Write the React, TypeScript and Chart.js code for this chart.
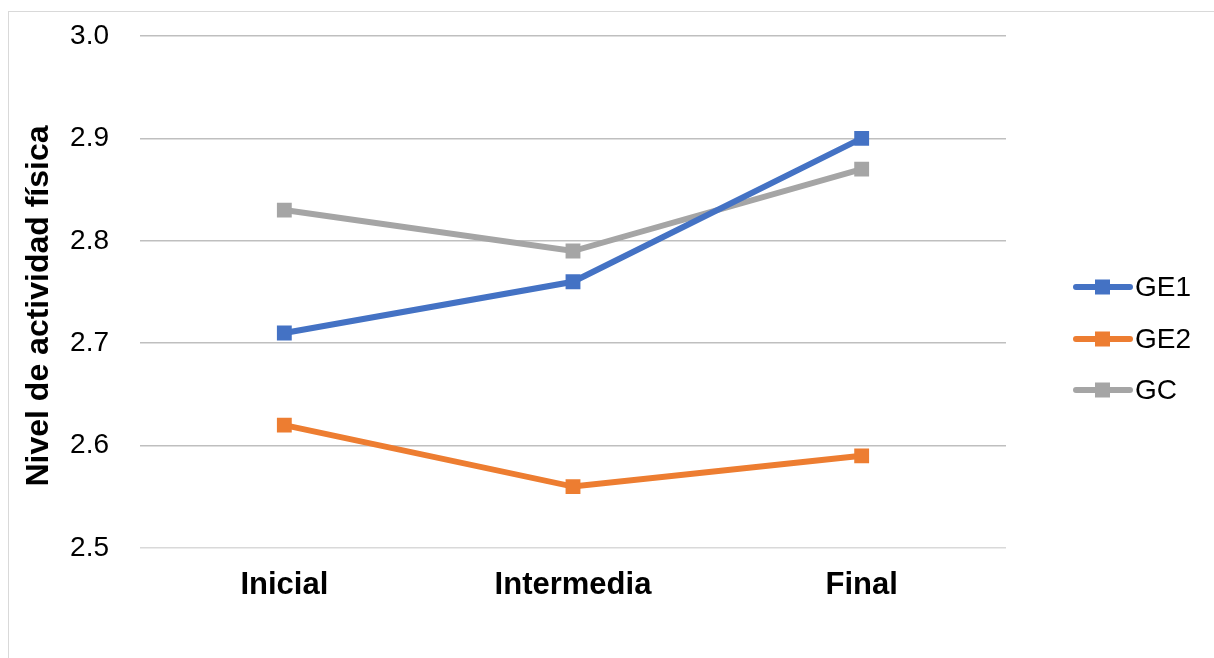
import React, { useEffect, useRef } from "react";
import { Chart, registerables } from "chart.js";

Chart.register(...registerables);

const categories = ["Inicial", "Intermedia", "Final"];
const seriesNames = ["GE1", "GE2", "GC"];
const ge1Values = [2.71, 2.76, 2.9];
const ge2Values = [2.62, 2.56, 2.59];
const gcValues = [2.83, 2.79, 2.87];
const seriesColors = ["#4472C4", "#ED7D31", "#A5A5A5"];
const yTitle = "Nivel de actividad física";

const FONT = "'Liberation Sans', Arial, sans-serif";

const borderPlugin = {
  id: "outerBorder",
  beforeDraw(chart: any) {
    const ctx = chart.ctx;
    ctx.save();
    ctx.fillStyle = "#ffffff";
    ctx.fillRect(0, 0, chart.width, chart.height);
    ctx.strokeStyle = "#D9D9D9";
    ctx.lineWidth = 1;
    ctx.strokeRect(8.5, 11.5, chart.width + 20, chart.height + 20);
    ctx.restore();
  },
};

const titlePlugin = {
  id: "yTitle",
  afterDraw(chart: any) {
    const ctx = chart.ctx;
    ctx.save();
    ctx.translate(39, 306);
    ctx.rotate(-Math.PI / 2);
    ctx.fillStyle = "#000000";
    ctx.font = `bold 32px ${FONT}`;
    ctx.textAlign = "center";
    ctx.textBaseline = "middle";
    ctx.fillText(yTitle, 0, 0);
    ctx.restore();
  },
};

const legendPlugin = {
  id: "customLegend",
  afterDraw(chart: any) {
    const ctx = chart.ctx;
    ctx.save();
    const ys = [287, 339, 390];
    chart.data.datasets.forEach((ds: any, i: number) => {
      const y = ys[i];
      ctx.strokeStyle = ds.borderColor;
      ctx.lineWidth = 6;
      ctx.lineCap = "round";
      ctx.beginPath();
      ctx.moveTo(1076, y);
      ctx.lineTo(1130, y);
      ctx.stroke();
      ctx.fillStyle = ds.borderColor;
      ctx.fillRect(1095, y - 7.5, 15, 15);
      ctx.fillStyle = "#000000";
      ctx.font = `28px ${FONT}`;
      ctx.textBaseline = "middle";
      ctx.textAlign = "left";
      ctx.fillText(ds.label, 1135, y + 1);
    });
    ctx.restore();
  },
};

export default function App() {
  const ref = useRef<HTMLCanvasElement>(null);
  useEffect(() => {
    if (!ref.current) return;
    const values = [ge1Values, ge2Values, gcValues];
    const chart = new Chart(ref.current, {
      type: "line",
      data: {
        labels: categories,
        datasets: seriesNames.map((name, i) => ({
          label: name,
          data: values[i],
          borderColor: seriesColors[i],
          backgroundColor: seriesColors[i],
          borderWidth: 6,
          pointStyle: "rect",
          pointRadius: 10.5,
          pointHoverRadius: 10.5,
          pointBorderWidth: 0,
          tension: 0,
        })),
      },
      options: {
        responsive: false,
        animation: false,
        devicePixelRatio: 1,
        layout: { padding: { left: 20, right: 208, top: 36, bottom: 0 } },
        plugins: { legend: { display: false }, tooltip: { enabled: false } },
        scales: {
          x: {
            offset: true,
            grid: { display: false, drawTicks: false },
            border: { display: false },
            ticks: {
              color: "#000000",
              font: { family: FONT, size: 31, weight: "bold" },
              padding: 19,
            },
            afterFit(scale: any) {
              scale.height = 110;
              scale.paddingLeft = 0;
              scale.paddingRight = 0;
            },
          },
          y: {
            min: 2.5,
            max: 3.0,
            grid: {
              drawTicks: false,
              color: (c: any) => (c.tick && c.tick.value === 2.5 ? "#D9D9D9" : "#BFBFBF"),
              lineWidth: 1.5,
            },
            border: { display: false },
            ticks: {
              stepSize: 0.1,
              color: "#000000",
              font: { family: FONT, size: 28 },
              padding: 31,
              callback: (v: any) => Number(v).toFixed(1),
            },
            afterFit(scale: any) {
              scale.width = 120;
              scale.paddingTop = 0;
              scale.paddingBottom = 0;
            },
          },
        },
      },
      plugins: [borderPlugin, titlePlugin, legendPlugin],
    });
    return () => chart.destroy();
  }, []);
  return (
    <div style={{ position: "fixed", left: 0, top: 0, width: 1214, height: 658, background: "#fff" }}>
      <canvas ref={ref} width={1214} height={658} style={{ display: "block" }} />
    </div>
  );
}
